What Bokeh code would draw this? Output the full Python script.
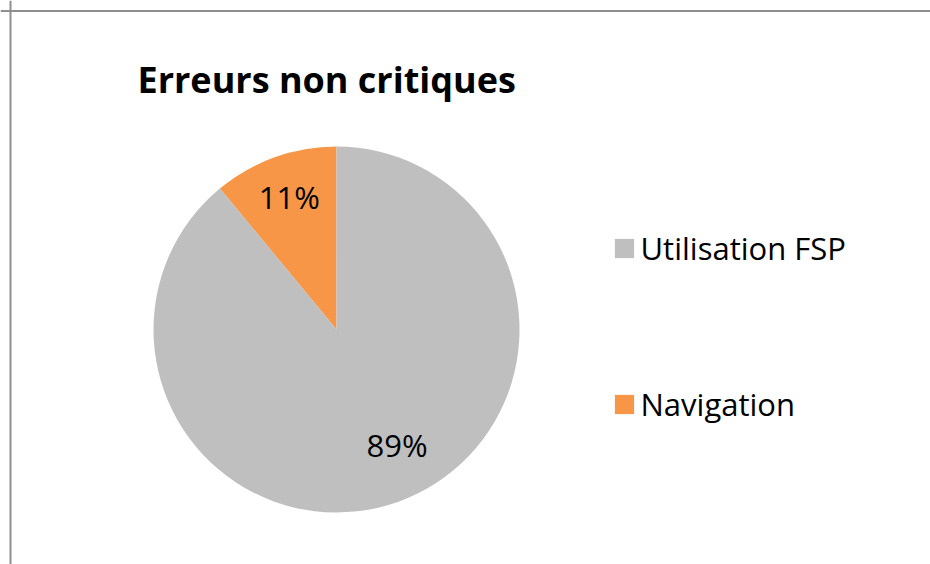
import math
from bokeh.plotting import figure
from bokeh.models import Range1d, Legend, LegendItem, Span
from bokeh.core.properties import value
from bokeh.embed import file_html
from bokeh.resources import INLINE

# Data
categories = ["Navigation", "Utilisation FSP"]
shares = [11, 89]
colors = ["#F79646", "#BFBFBF"]
legend_order = ["Utilisation FSP", "Navigation"]
title_text = "Erreurs non critiques"

W, H = 930, 564
p = figure(width=W, height=H, output_backend="svg", toolbar_location=None,
           x_range=Range1d(0, W), y_range=Range1d(0, H),
           x_axis_location=None, y_axis_location=None, min_border=0)
p.grid.visible = False
p.outline_line_color = None
p.background_fill_color = "white"
p.border_fill_color = "white"

FONT = "Open Sans"

def sy(y):
    return H - y

# pie geometry
cx, cy, r = 336, sy(329), 183
total = sum(shares)
starts, ends, mids = [], [], []
acc = 0.0
for s in shares:
    a0 = math.pi / 2 + 2 * math.pi * acc / total
    acc += s
    a1 = math.pi / 2 + 2 * math.pi * acc / total
    starts.append(a0); ends.append(a1); mids.append((a0 + a1) / 2)

renderers = {}
for i, c in enumerate(categories):
    rr = p.wedge(x=cx, y=cy, radius=r, start_angle=starts[i], end_angle=ends[i],
                 direction="anticlock", fill_color=colors[i], line_color=None)
    renderers[c] = rr

# labels
lab_f = [0.76, 0.72]
lab_dx = [0, 16]
lab_dy = [2, 8]
lx = [cx + lab_f[i] * r * math.cos(mids[i]) + lab_dx[i] for i in range(len(shares))]
ly = [cy + lab_f[i] * r * math.sin(mids[i]) + lab_dy[i] for i in range(len(shares))]
p.text(x=lx, y=ly, text=[f"{s}%" for s in shares], text_align="center",
       text_baseline="middle", text_font=value(FONT), text_font_size="31px",
       text_color="#000000")

# title
p.text(x=[137], y=[sy(79)], text=[title_text], text_font=value(FONT),
       text_font_style="bold", text_font_size="36px", text_color="#000000",
       text_baseline="alphabetic", text_align="left")

# legend
items = [LegendItem(label=c, renderers=[renderers[c]]) for c in legend_order]
legend = Legend(items=items, location=(611.5, sy(425)), orientation="vertical",
                glyph_width=24, glyph_height=24, label_text_font=FONT,
                label_text_font_size="31px", label_text_color="#000000",
                label_standoff=5, spacing=114, padding=0, margin=0,
                border_line_color=None, background_fill_alpha=0)
p.add_layout(legend, "center")

# chart area border (top & left edges visible)
p.add_layout(Span(location=10, dimension="height", line_color="#8f8f8f", line_width=2))
p.add_layout(Span(location=sy(10.5), dimension="width", line_color="#8f8f8f", line_width=2))

open("out.html", "w").write(file_html(p, INLINE))
